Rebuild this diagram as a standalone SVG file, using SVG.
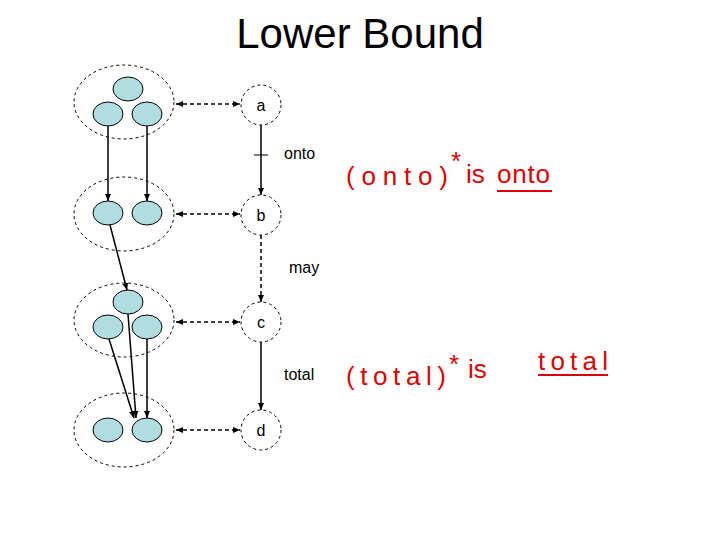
<svg xmlns="http://www.w3.org/2000/svg" width="720" height="540" viewBox="0 0 720 540">
<style>
.set{fill:none;stroke:#000;stroke-width:1;stroke-dasharray:3,3}
.el{fill:#b0dde0;stroke:#000;stroke-width:1}
.node{fill:#fff;stroke:#000;stroke-width:1;stroke-dasharray:3,3}
.t{font-family:"Liberation Sans",Arial,sans-serif;font-size:16px}
.hand{font-family:"Liberation Sans",sans-serif;font-size:26px;fill:#d00;}
.s{stroke:#000;stroke-width:1.5;fill:none}
.d{stroke:#000;stroke-width:1.5;fill:none;stroke-dasharray:4,3}
</style>
<defs>
<marker id="ah" markerWidth="8" markerHeight="8" refX="7" refY="4" orient="auto" markerUnits="userSpaceOnUse"><path d="M0,1 L7,4 L0,7 z" fill="#000"/></marker>
<marker id="as" markerWidth="8" markerHeight="8" refX="1" refY="4" orient="auto" markerUnits="userSpaceOnUse"><path d="M8,1 L1,4 L8,7 z" fill="#000"/></marker>
</defs>
<rect width="720" height="540" fill="#fff"/>
<text x="360" y="48" text-anchor="middle" font-family="Liberation Sans,Arial,sans-serif" font-size="42">Lower Bound</text>
<g id="set1"><ellipse class="set" cx="124" cy="102" rx="50" ry="37"/><ellipse class="el" cx="128" cy="89" rx="15" ry="12"/><ellipse class="el" cx="108" cy="114" rx="15" ry="12"/><ellipse class="el" cx="147" cy="114" rx="15" ry="12"/></g>
<g id="set2"><ellipse class="set" cx="124" cy="214" rx="50" ry="37"/><ellipse class="el" cx="108" cy="213" rx="15" ry="12"/><ellipse class="el" cx="147" cy="213" rx="15" ry="12"/></g>
<g id="set3"><ellipse class="set" cx="124" cy="320" rx="50" ry="37"/><ellipse class="el" cx="128" cy="302" rx="15" ry="12"/><ellipse class="el" cx="108" cy="327" rx="15" ry="12"/><ellipse class="el" cx="147" cy="327" rx="15" ry="12"/></g>
<g id="set4"><ellipse class="set" cx="124" cy="430" rx="50" ry="37"/><ellipse class="el" cx="108" cy="430" rx="15" ry="12"/><ellipse class="el" cx="147" cy="430" rx="15" ry="12"/></g>
<g id="a"><circle class="node" cx="261" cy="105" r="20"/><text class="t" x="261" y="111" text-anchor="middle">a</text></g>
<g id="b"><circle class="node" cx="261" cy="215" r="20"/><text class="t" x="261" y="221" text-anchor="middle">b</text></g>
<g id="c"><circle class="node" cx="261" cy="322" r="20"/><text class="t" x="261" y="328" text-anchor="middle">c</text></g>
<g id="d"><circle class="node" cx="261" cy="430" r="20"/><text class="t" x="261" y="436" text-anchor="middle">d</text></g>
<g id="connectors">
<line class="d" x1="176" y1="104" x2="240" y2="104" marker-start="url(#as)" marker-end="url(#ah)"/>
<line class="d" x1="176" y1="214" x2="240" y2="214" marker-start="url(#as)" marker-end="url(#ah)"/>
<line class="d" x1="176" y1="322" x2="240" y2="322" marker-start="url(#as)" marker-end="url(#ah)"/>
<line class="d" x1="176" y1="430" x2="240" y2="430" marker-start="url(#as)" marker-end="url(#ah)"/>
<line class="s" x1="261" y1="125" x2="261" y2="195" marker-end="url(#ah)"/>
<line x1="254" y1="155" x2="268" y2="155" stroke="#000" stroke-width="1"/>
<line class="d" x1="261" y1="235" x2="261" y2="302" marker-end="url(#ah)"/>
<line class="s" x1="261" y1="342" x2="261" y2="410" marker-end="url(#ah)"/>
<line class="s" x1="108" y1="126" x2="108" y2="201" marker-end="url(#ah)"/>
<line class="s" x1="147" y1="126" x2="147" y2="201" marker-end="url(#ah)"/>
<line class="s" x1="110" y1="225" x2="127" y2="290" marker-end="url(#ah)"/>
<line class="s" x1="128" y1="314" x2="136" y2="418" marker-end="url(#ah)"/>
<line class="s" x1="109" y1="339" x2="134" y2="418" marker-end="url(#ah)"/>
<line class="s" x1="147" y1="339" x2="147" y2="418" marker-end="url(#ah)"/>
</g>
<text class="t" x="284" y="159">onto</text>
<text class="t" x="289" y="273">may</text>
<text class="t" x="284" y="380">total</text>
<g id="note1">
<text class="hand" x="346" y="185" textLength="102" lengthAdjust="spacing">(onto)</text>
<text class="hand" x="451" y="170" font-size="20">*</text>
<text class="hand" x="466" y="183">is</text>
<text class="hand" x="497" y="183" textLength="53" lengthAdjust="spacing">onto</text>
<line x1="497" y1="191" x2="552" y2="191" stroke="#d00" stroke-width="2"/>
</g>
<g id="note2">
<text class="hand" x="346" y="385" textLength="100" lengthAdjust="spacing">(total)</text>
<text class="hand" x="449" y="373" font-size="20">*</text>
<text class="hand" x="468" y="378">is</text>
<text class="hand" x="538" y="370" textLength="70" lengthAdjust="spacing">total</text>
<line x1="538" y1="375" x2="608" y2="375" stroke="#d00" stroke-width="2"/>
</g>
</svg>
